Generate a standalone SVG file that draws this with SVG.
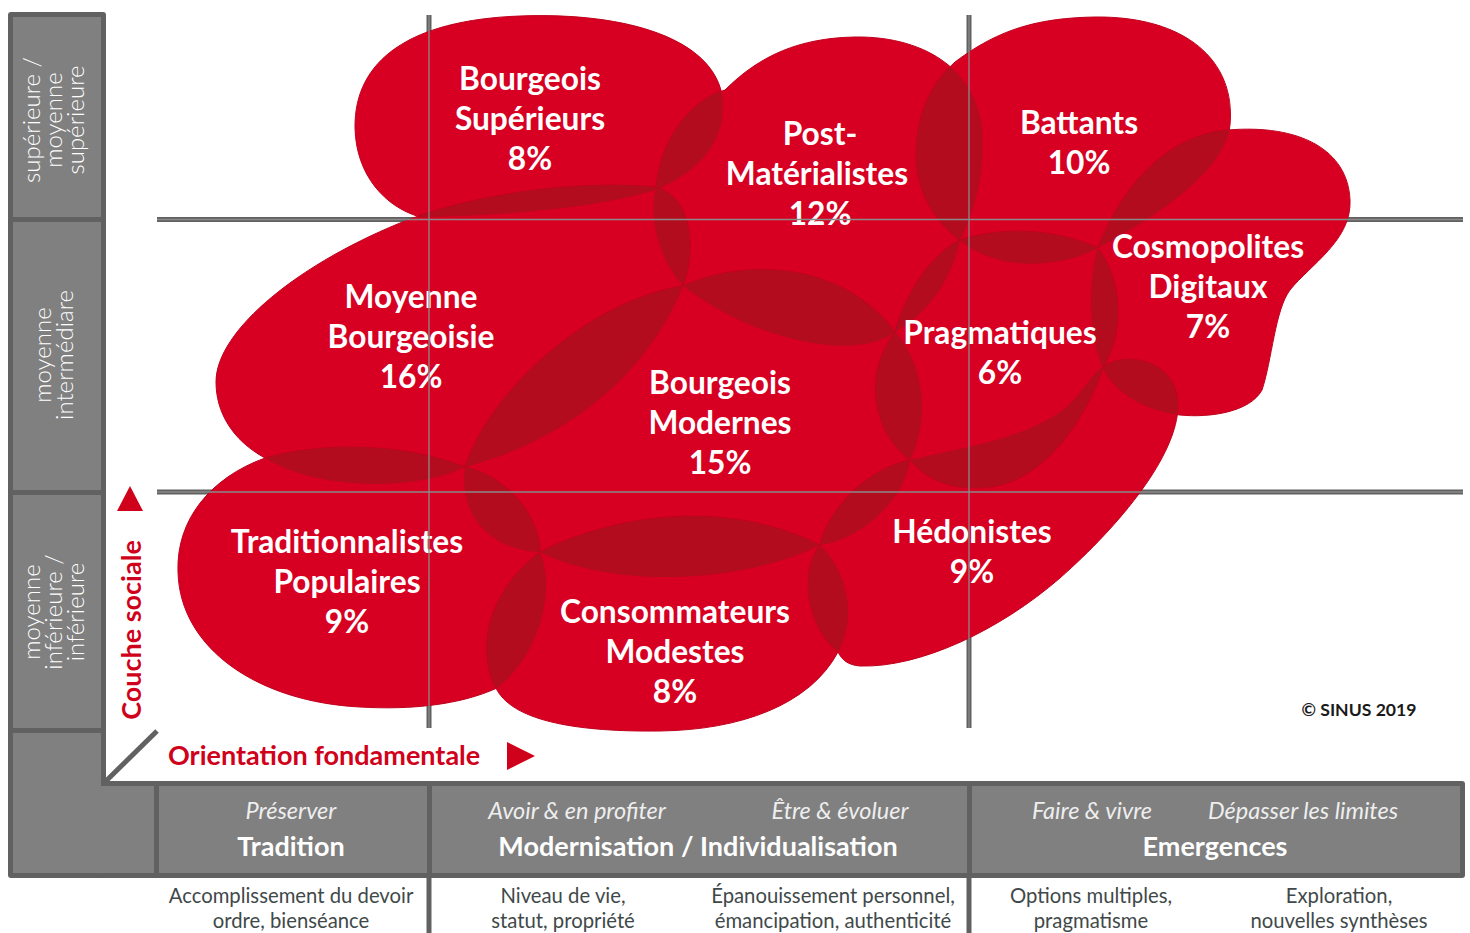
<svg xmlns="http://www.w3.org/2000/svg" xmlns:xlink="http://www.w3.org/1999/xlink" width="1470" height="933" viewBox="0 0 1470 933">
<style>
  text { font-family: Lato, "Open Sans", "Liberation Sans", sans-serif; }
  .lbl { font-weight: 700; font-size: 31.7px; fill: #ffffff; text-anchor: middle; }
  .side { font-weight: 300; font-size: 24px; fill: #ffffff; text-anchor: middle; }
  .it { font-style: italic; font-size: 23.5px; fill: #eeeeee; text-anchor: middle; }
  .hd { font-weight: 700; font-size: 27px; fill: #ffffff; text-anchor: middle; }
  .desc { font-size: 20.3px; fill: #3f4949; text-anchor: middle; }
  .red { font-weight: 700; font-size: 27px; fill: #d0021b; }
  .blob { fill: #d70022; stroke: #bf001c; stroke-width: 1; }
  .ov { fill: #b30c1e; }
  .frame { fill: #616161; }
  .cell { fill: #808080; }
  .thick { stroke: #616161; stroke-width: 5; fill: none; }
  .thin { stroke: #8a8a8a; stroke-width: 1.3; fill: none; }
</style>
<defs>
  <path id="p-bs" d="M 420 217 C 385 207, 356 175, 355 128 C 354 60, 410 20, 520 16 C 630 12, 712 40, 722 95 C 728 135, 705 170, 655 190 C 590 210, 490 216, 420 217 Z"/>
  <path id="p-pm" d="M 683 286 C 660 260, 648 220, 656 188 C 660 140, 690 100, 725 90 C 760 55, 800 38, 855 37 C 930 36, 978 75, 982 130 C 985 175, 975 210, 960 240 C 950 285, 925 315, 895 332 C 860 360, 760 345, 683 286 Z"/>
  <path id="p-b" d="M 955 62 C 1000 28, 1040 18, 1095 17 C 1185 16, 1236 60, 1230 125 C 1225 170, 1160 215, 1098 248 C 1060 268, 1000 272, 962 242 C 925 215, 912 175, 917 140 C 920 105, 935 80, 955 62 Z"/>
  <path id="p-mb" d="M 216 382 C 216 330, 300 262, 410 219 C 480 193, 580 180, 655 187 C 690 195, 698 245, 683 286 C 650 370, 570 440, 465 467 C 420 490, 320 492, 265 458 C 232 440, 216 412, 216 382 Z"/>
  <path id="p-bm" d="M 465 467 C 490 390, 590 300, 683 286 C 740 260, 840 258, 895 332 C 925 365, 930 420, 910 460 C 905 500, 860 540, 820 545 C 740 585, 610 588, 540 552 C 490 550, 458 515, 465 467 Z"/>
  <path id="p-tp" d="M 465 467 C 505 475, 540 515, 540 552 C 556 590, 540 655, 497 688 C 460 705, 410 710, 360 707 C 260 702, 180 650, 178 572 C 176 520, 210 478, 265 458 C 330 440, 410 445, 465 467 Z"/>
  <path id="p-cm" d="M 540 552 C 620 512, 730 500, 820 545 C 850 575, 856 620, 838 652 C 810 705, 740 730, 660 731 C 580 732, 515 722, 497 690 C 480 660, 478 600, 540 552 Z"/>
  <path id="p-cd" d="M 1098 248 C 1120 190, 1165 135, 1228 130 C 1300 124, 1348 150, 1350 200 C 1352 240, 1310 265, 1290 290 C 1275 310, 1272 360, 1262 390 C 1250 412, 1210 418, 1180 415 C 1150 412, 1115 395, 1103 368 C 1088 335, 1088 280, 1098 248 Z"/>
  <path id="p-h" d="M 820 545 C 830 505, 870 468, 910 460 C 960 448, 1020 440, 1060 412 C 1080 398, 1090 375, 1105 365 C 1135 350, 1178 365, 1178 405 C 1178 455, 1120 525, 1060 578 C 1000 630, 920 668, 860 666 C 848 665, 842 660, 838 652 C 805 625, 800 570, 820 545 Z"/>
  <path id="p-p" d="M 960 240 C 995 228, 1050 226, 1098 248 C 1122 280, 1125 330, 1103 368 C 1085 420, 1045 480, 990 487 C 950 492, 925 478, 910 460 C 870 430, 865 370, 895 332 C 905 295, 930 255, 960 240 Z"/>
  <clipPath id="c-bs"><use xlink:href="#p-bs"/></clipPath>
  <clipPath id="c-pm"><use xlink:href="#p-pm"/></clipPath>
  <clipPath id="c-b"><use xlink:href="#p-b"/></clipPath>
  <clipPath id="c-mb"><use xlink:href="#p-mb"/></clipPath>
  <clipPath id="c-bm"><use xlink:href="#p-bm"/></clipPath>
  <clipPath id="c-tp"><use xlink:href="#p-tp"/></clipPath>
  <clipPath id="c-cm"><use xlink:href="#p-cm"/></clipPath>
  <clipPath id="c-cd"><use xlink:href="#p-cd"/></clipPath>
  <clipPath id="c-h"><use xlink:href="#p-h"/></clipPath>
</defs>

<rect x="0" y="0" width="1470" height="933" fill="#ffffff"/>

<g id="frame">
  <rect class="frame" x="8" y="12" width="98" height="866" rx="3"/>
  <rect class="frame" x="101" y="781" width="1364" height="97" rx="3"/>
  <rect class="cell" x="13" y="17" width="88" height="200"/>
  <rect class="cell" x="13" y="222" width="88" height="268"/>
  <rect class="cell" x="13" y="495" width="88" height="233"/>
  <path class="cell" d="M 13 733 H 101 V 786 H 154 V 873 H 13 Z"/>
  <rect class="cell" x="159" y="786" width="268" height="87"/>
  <rect class="cell" x="432" y="786" width="535" height="87"/>
  <rect class="cell" x="972" y="786" width="488" height="87"/>
  <line class="thick" x1="106" y1="781" x2="157" y2="731"/>
  <line class="thick" x1="429" y1="878" x2="429" y2="933"/>
  <line class="thick" x1="969" y1="878" x2="969" y2="933"/>
</g>

<g id="side-labels">
  <text class="side" transform="translate(40,120) rotate(-90)"><tspan x="0" dy="0">supérieure /</tspan><tspan x="0" dy="22">moyenne</tspan><tspan x="0" dy="22">supérieure</tspan></text>
  <text class="side" transform="translate(51,355) rotate(-90)"><tspan x="0" dy="0">moyenne</tspan><tspan x="0" dy="22">intermédiare</tspan></text>
  <text class="side" transform="translate(40,612) rotate(-90)"><tspan x="0" dy="0">moyenne</tspan><tspan x="0" dy="22">inférieure /</tspan><tspan x="0" dy="22">inférieure</tspan></text>
</g>

<g id="grid">
  <line class="thick" x1="157" y1="219.5" x2="1463" y2="219.5"/>
  <line class="thick" x1="157" y1="492" x2="1463" y2="492"/>
  <line class="thick" x1="429" y1="15" x2="429" y2="728"/>
  <line class="thick" x1="969" y1="15" x2="969" y2="728"/>
</g>

<g id="nodes">
  <g id="node-bourgeois-superieurs">
    <use xlink:href="#p-bs" class="blob"/>
    <text class="lbl"><tspan x="530" y="90">Bourgeois</tspan><tspan x="530" y="130">Supérieurs</tspan><tspan x="530" y="170">8%</tspan></text>
  </g>
  <g id="node-post-materialistes">
    <use xlink:href="#p-pm" class="blob"/>
    <use xlink:href="#p-pm" class="ov" clip-path="url(#c-bs)"/>
    <text class="lbl"><tspan x="820" y="145">Post-</tspan><tspan x="817" y="185">Matérialistes</tspan><tspan x="820" y="225">12%</tspan></text>
  </g>
  <g id="node-battants">
    <use xlink:href="#p-b" class="blob"/>
    <use xlink:href="#p-b" class="ov" clip-path="url(#c-pm)"/>
    <text class="lbl"><tspan x="1079" y="134">Battants</tspan><tspan x="1079" y="174">10%</tspan></text>
  </g>
  <g id="node-moyenne-bourgeoisie">
    <use xlink:href="#p-mb" class="blob"/>
    <use xlink:href="#p-mb" class="ov" clip-path="url(#c-bs)"/>
    <use xlink:href="#p-mb" class="ov" clip-path="url(#c-pm)"/>
    <text class="lbl"><tspan x="411" y="308">Moyenne</tspan><tspan x="411" y="348">Bourgeoisie</tspan><tspan x="411" y="388">16%</tspan></text>
  </g>
  <g id="node-bourgeois-modernes">
    <use xlink:href="#p-bm" class="blob"/>
    <use xlink:href="#p-bm" class="ov" clip-path="url(#c-mb)"/>
    <use xlink:href="#p-bm" class="ov" clip-path="url(#c-pm)"/>
    <text class="lbl"><tspan x="720" y="394">Bourgeois</tspan><tspan x="720" y="434">Modernes</tspan><tspan x="720" y="474">15%</tspan></text>
  </g>
  <g id="node-traditionnalistes-populaires">
    <use xlink:href="#p-tp" class="blob"/>
    <use xlink:href="#p-tp" class="ov" clip-path="url(#c-mb)"/>
    <use xlink:href="#p-tp" class="ov" clip-path="url(#c-bm)"/>
    <text class="lbl"><tspan x="347" y="553">Traditionnalistes</tspan><tspan x="347" y="593">Populaires</tspan><tspan x="347" y="633">9%</tspan></text>
  </g>
  <g id="node-consommateurs-modestes">
    <use xlink:href="#p-cm" class="blob"/>
    <use xlink:href="#p-cm" class="ov" clip-path="url(#c-bm)"/>
    <use xlink:href="#p-cm" class="ov" clip-path="url(#c-tp)"/>
    <text class="lbl"><tspan x="675" y="623">Consommateurs</tspan><tspan x="675" y="663">Modestes</tspan><tspan x="675" y="703">8%</tspan></text>
  </g>
  <g id="node-cosmopolites-digitaux">
    <use xlink:href="#p-cd" class="blob"/>
    <use xlink:href="#p-cd" class="ov" clip-path="url(#c-b)"/>
    <text class="lbl"><tspan x="1208" y="258">Cosmopolites</tspan><tspan x="1208" y="298">Digitaux</tspan><tspan x="1208" y="338">7%</tspan></text>
  </g>
  <g id="node-hedonistes">
    <use xlink:href="#p-h" class="blob"/>
    <use xlink:href="#p-h" class="ov" clip-path="url(#c-bm)"/>
    <use xlink:href="#p-h" class="ov" clip-path="url(#c-cm)"/>
    <use xlink:href="#p-h" class="ov" clip-path="url(#c-cd)"/>
    <text class="lbl"><tspan x="972" y="543">Hédonistes</tspan><tspan x="972" y="583">9%</tspan></text>
  </g>
  <g id="node-pragmatiques">
    <use xlink:href="#p-p" class="blob"/>
    <use xlink:href="#p-p" class="ov" clip-path="url(#c-pm)"/>
    <use xlink:href="#p-p" class="ov" clip-path="url(#c-b)"/>
    <use xlink:href="#p-p" class="ov" clip-path="url(#c-bm)"/>
    <use xlink:href="#p-p" class="ov" clip-path="url(#c-h)"/>
    <use xlink:href="#p-p" class="ov" clip-path="url(#c-cd)"/>
    <text class="lbl"><tspan x="1000" y="344">Pragmatiques</tspan><tspan x="1000" y="384">6%</tspan></text>
  </g>
</g>

<g id="grid-overlay">
  <line class="thin" x1="157" y1="219.5" x2="1463" y2="219.5"/>
  <line class="thin" x1="157" y1="492" x2="1463" y2="492"/>
  <line class="thin" x1="429" y1="15" x2="429" y2="728"/>
  <line class="thin" x1="969" y1="15" x2="969" y2="728"/>
</g>

<g id="connectors">
  <polygon points="117,511 143,511 130,486" fill="#d0021b"/>
  <polygon points="507,742 507,770 535,756" fill="#d0021b"/>
</g>

<g id="axis-labels">
  <text class="red" transform="translate(141,630) rotate(-90)" text-anchor="middle" font-size="27.6">Couche sociale</text>
  <text class="red" x="168" y="765">Orientation fondamentale</text>
  <text x="1359" y="716" text-anchor="middle" font-weight="700" font-size="17.6" fill="#1a1a1a">© SINUS 2019</text>
</g>

<g id="bottom-labels">
  <text class="it" x="291" y="819">Préserver</text>
  <text class="hd" x="291" y="856">Tradition</text>
  <text class="it" x="577" y="819">Avoir &amp; en profiter</text>
  <text class="it" x="840" y="819">Être &amp; évoluer</text>
  <text class="hd" x="698" y="856">Modernisation / Individualisation</text>
  <text class="it" x="1092" y="819">Faire &amp; vivre</text>
  <text class="it" x="1303" y="819">Dépasser les limites</text>
  <text class="hd" x="1215" y="856">Emergences</text>

  <text class="desc"><tspan x="291" y="903">Accomplissement du devoir</tspan><tspan x="291" y="928">ordre, bienséance</tspan></text>
  <text class="desc"><tspan x="563" y="903">Niveau de vie,</tspan><tspan x="563" y="928">statut, propriété</tspan></text>
  <text class="desc"><tspan x="833" y="903">Épanouissement personnel,</tspan><tspan x="833" y="928">émancipation, authenticité</tspan></text>
  <text class="desc"><tspan x="1091" y="903">Options multiples,</tspan><tspan x="1091" y="928">pragmatisme</tspan></text>
  <text class="desc"><tspan x="1339" y="903">Exploration,</tspan><tspan x="1339" y="928">nouvelles synthèses</tspan></text>
</g>
</svg>
